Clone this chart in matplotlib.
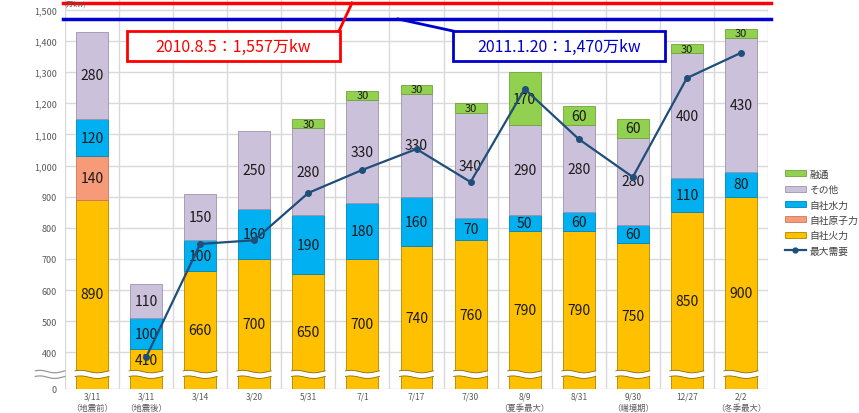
import numpy as np
import matplotlib
matplotlib.use("Agg")
import matplotlib.pyplot as plt
from matplotlib.patches import Rectangle, Polygon
from matplotlib.lines import Line2D

plt.rcParams['font.family'] = ['Noto Sans CJK JP', 'DejaVu Sans']

# categories
dates = ['3/11', '3/11', '3/14', '3/20', '5/31', '7/1', '7/17', '7/30',
         '8/9', '8/31', '9/30', '12/27', '2/2']
notes = ['（地震前）', '（地震後）', '', '', '', '', '', '',
         '（夏季最大）', '', '（端境期）', '', '（冬季最大）']

# supply (万kW), bottom to top
thermal = [890, 410, 660, 700, 650, 700, 740, 760, 790, 790, 750, 850, 900]
nuclear = [140, 0, 0, 0, 0, 0, 0, 0, 0, 0, 0, 0, 0]
hydro = [120, 100, 100, 160, 190, 180, 160, 70, 50, 60, 60, 110, 80]
other = [280, 110, 150, 250, 280, 330, 330, 340, 290, 280, 280, 400, 430]
interchange = [0, 0, 0, 0, 30, 30, 30, 30, 170, 60, 60, 30, 30]

# max demand (万kW), no point for the first category
demand = [np.nan, 384, 748, 760, 912, 986, 1053, 947, 1246, 1085, 963, 1281, 1362]

# past peaks
peak_2010 = 1557
peak_2011 = 1470
peak_2010_label = '2010.8.5：1,557万kw'
peak_2011_label = '2011.1.20：1,470万kw'

series = [
    ('自社火力', thermal, '#FFC000', '#B08600'),
    ('自社原子力', nuclear, '#F79A78', '#C9785C'),
    ('自社水力', hydro, '#00B0F0', '#0086B8'),
    ('その他', other, '#CCC1DA', '#9E93B0'),
    ('融通', interchange, '#92D050', '#6FA33A'),
]

y_bottom, y_top = 282, 1535
brk_lo, brk_hi = 320, 338
width = 0.59

fig = plt.figure(figsize=(8.59, 4.14), dpi=100)
ax = fig.add_axes([65 / 859, 24 / 414, 703 / 859, 390 / 414])
ax.set_xlim(-0.5, len(dates) - 0.5)
ax.set_ylim(y_bottom, y_top)

x = np.arange(len(dates))
tops = np.zeros(len(dates))
for name, vals, col, edge in series:
    vals = np.array(vals, dtype=float)
    lo = np.where(tops == 0, y_bottom, tops)
    hi = tops + vals
    mask = vals > 0
    ax.bar(x[mask], (hi - lo)[mask], bottom=lo[mask], width=width,
           color=col, edgecolor=edge, linewidth=0.6, zorder=2)
    for i in np.where(mask)[0]:
        cy = (lo[i] + hi[i]) / 2
        if cy < brk_hi + 10:
            cy = (brk_hi + hi[i]) / 2
        fs = 8 if (name == '融通' and vals[i] <= 30) else 10
        ax.text(x[i], cy, f'{int(vals[i])}', ha='center', va='center',
                fontsize=fs, color='#1a1a1a', zorder=5)
    tops = hi

# wavy axis break across each bar
for xi in x:
    xs = np.linspace(xi - width / 2 - 0.02, xi + width / 2 + 0.02, 40)
    ph = (xs - xs[0]) / (xs[-1] - xs[0]) * 2 * np.pi
    up = brk_hi + 4 * np.sin(ph + 0.6)
    dn = brk_lo + 4 * np.sin(ph + 0.6)
    poly = np.vstack([np.column_stack([xs, up]), np.column_stack([xs[::-1], dn[::-1]])])
    ax.add_patch(Polygon(poly, closed=True, facecolor='white', edgecolor='none', zorder=3))
    ax.plot(xs, up, color='#8a6a00', lw=0.6, zorder=3)
    ax.plot(xs, dn, color='#8a6a00', lw=0.6, zorder=3)

# axis break marks on the left
xs = np.linspace(-1.05, -0.5, 30)
ph = (xs - xs[0]) / (xs[-1] - xs[0]) * 2 * np.pi
for yv in (brk_hi, brk_lo):
    ax.plot(xs, yv + 4 * np.sin(ph + 0.6), color='#9a9a9a', lw=0.9, clip_on=False, zorder=3)

# max demand line
ax.plot(x, demand, color='#1F4E79', lw=1.6, marker='o', ms=4, zorder=6)

# grid
yt = list(range(400, 1501, 100))
for yv in [y_bottom] + yt:
    ax.axhline(yv, color='#d9d9d9', lw=1, zorder=0)
for xv in np.arange(-0.5, len(dates), 1):
    ax.axvline(xv, color='#d9d9d9', lw=1, zorder=0)

for s in ax.spines.values():
    s.set_visible(False)
ax.set_yticks([y_bottom] + yt)
ax.set_yticklabels(['0'] + [f'{v:,}' for v in yt], fontsize=6.5, color='#595959')
ax.set_xticks(x)
ax.set_xticklabels([d + ('\n' + n if n else '') for d, n in zip(dates, notes)],
                   fontsize=6, color='#595959', linespacing=1.25, va='top')
ax.tick_params(axis='y', length=0, pad=6)
ax.tick_params(axis='x', length=0, pad=2)

# past peak reference lines
ax.axhline(min(peak_2010, y_top - 13), color='#FF0000', lw=2.5, zorder=7, xmin=-0.003, xmax=1.004, clip_on=False)
ax.axhline(peak_2011, color='#0000CC', lw=2.5, zorder=7, xmin=-0.003, xmax=1.004, clip_on=False)

def fp(px, py):
    return px / 859, 1 - py / 414

for (bx0, bx1), lead, col, lab in [
        ((127, 340), ((339, 32), (352, 4)), '#FF0000', peak_2010_label),
        ((453, 665), ((453, 32), (398, 20)), '#0000CC', peak_2011_label)]:
    x0, y0 = fp(bx0, 62)
    x1, y1 = fp(bx1, 32)
    fig.add_artist(Rectangle((x0, y0), x1 - x0, y1 - y0, transform=fig.transFigure,
                             facecolor='white', edgecolor=col, lw=2, zorder=8))
    (ax0, ay0), (ax1, ay1) = fp(*lead[0]), fp(*lead[1])
    fig.add_artist(Line2D([ax0, ax1], [ay0, ay1], transform=fig.transFigure,
                          color=col, lw=2, zorder=8))
    fig.text((x0 + x1) / 2, (y0 + y1) / 2, lab, ha='center', va='center',
             fontsize=11.5, color=col, zorder=9)

fig.text(0.075, 0.999, '(万kW)', fontsize=5, color='#595959', va='top', ha='left')

# legend
handles = [Rectangle((0, 0), 1, 1, facecolor=c, edgecolor=e, lw=0.6)
           for _, _, c, e in series[::-1]]
labels = [s[0] for s in series[::-1]]
handles.append(Line2D([], [], color='#1F4E79', lw=1.6, marker='o', ms=3.5))
labels.append('最大需要')
fig.legend(handles, labels, loc='upper left', bbox_to_anchor=(776 / 859, 1 - 161 / 414),
           frameon=False, fontsize=7, handlelength=2.2, handleheight=0.6,
           labelspacing=0.55, handletextpad=0.3, labelcolor='#404040')

fig.savefig('out.png', dpi=100)
